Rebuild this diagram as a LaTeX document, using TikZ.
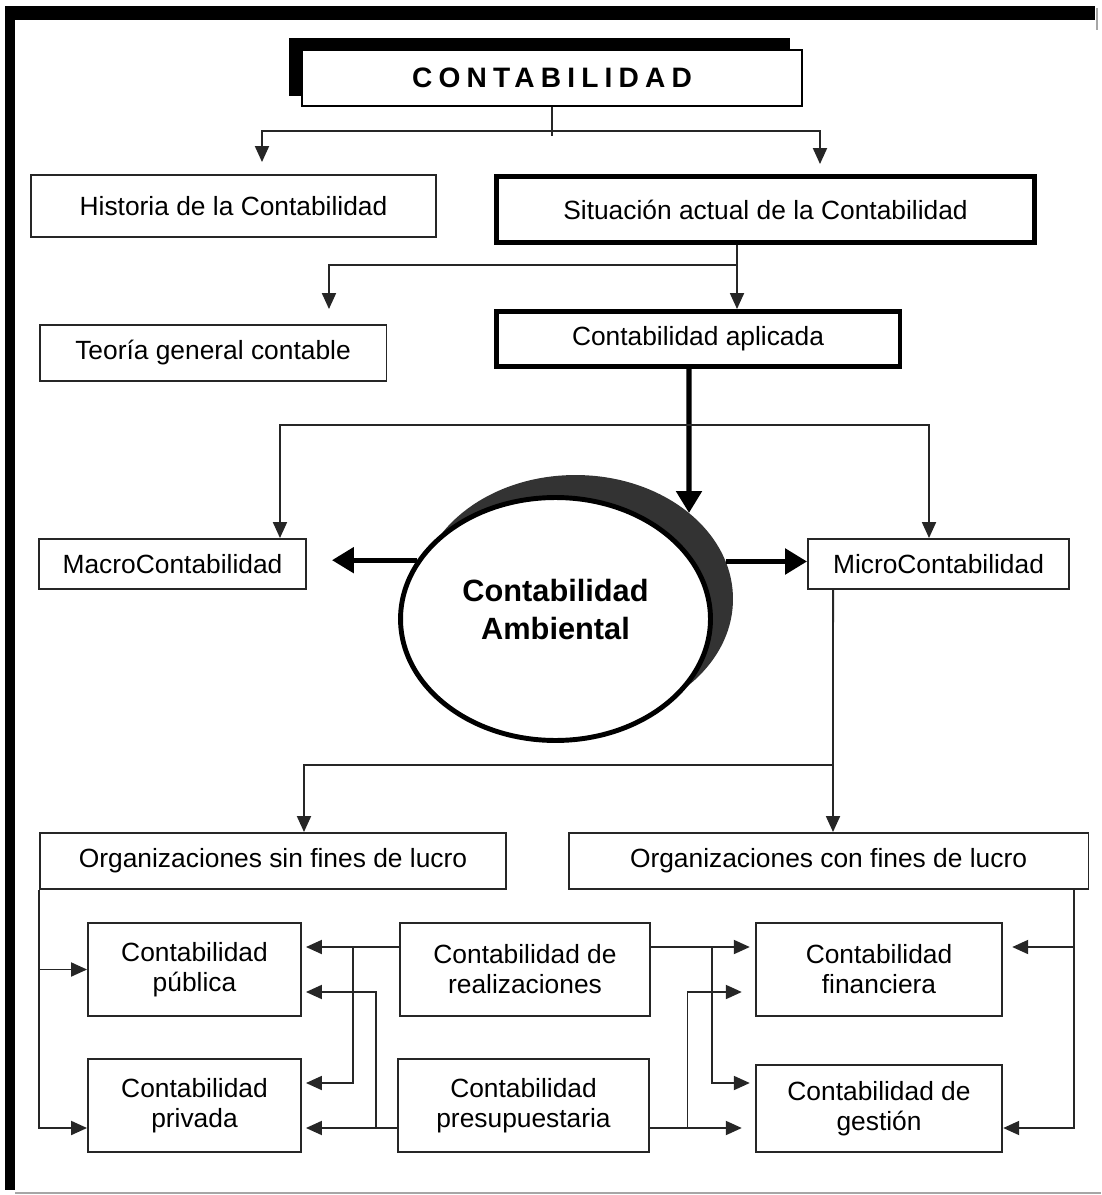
\documentclass[tikz,border=0pt]{standalone}
\usepackage{fontspec}
\setmainfont{Liberation Sans}
\usetikzlibrary{arrows.meta,shapes.geometric}

\tikzset{
  box/.style={draw=black!85, line width=1.1pt, fill=white, align=center, inner sep=0pt,
    font=\fontsize{15}{17}\selectfont},
  thickbox/.style={box, draw=black, line width=2.8pt},
  conn/.style={draw=black!85, line width=1.1pt},
  arr/.style={conn, -{Triangle[length=0.32cm,width=0.28cm]}},
  bigarr/.style={draw=black, line width=3pt, -{Triangle[length=0.44cm,width=0.5cm]}}
}

\begin{document}
\begin{tikzpicture}[x=0.02cm, y=-0.02cm]
    \useasboundingbox (0,0) rectangle (1101,1195);

    % Frame
    \fill (5,6) rectangle (1095,20);
    \fill (5,6) rectangle (15,1190);
    \draw[gray!70, line width=0.8pt] (15,1193) -- (1101,1193);
    \draw[gray!70, line width=0.8pt] (1097,8) -- (1097,30);

    % Title with its shadow
    \fill (289,38) rectangle (790,96);
    \node[box, draw=black, minimum width=10cm, minimum height=1.12cm,
          font=\bfseries\fontsize{16}{18}\selectfont\addfontfeature{LetterSpace=22}]
          (title) at (552,78) {CONTABILIDAD};

    % Second level
    \node[box, minimum width=8.1cm, minimum height=1.24cm] (historia) at (233.5,206)
        {Historia de la Contabilidad};
    \node[thickbox, minimum width=10.76cm, minimum height=1.32cm] (situacion) at (765.5,209.5)
        {Situación actual de la Contabilidad};
    \node[box, minimum width=6.94cm, minimum height=1.12cm] (teoria) at (213,353)
        {Teoría general contable};
    \node[thickbox, minimum width=8.08cm, minimum height=1.1cm] (aplicada) at (698,339)
        {Contabilidad aplicada};

    % Macro and micro
    \node[box, minimum width=5.34cm, minimum height=1cm] (macro) at (172.5,564) {MacroContabilidad};
    \node[box, minimum width=5.22cm, minimum height=1cm] (micro) at (938.5,564) {MicroContabilidad};

    % Environmental accounting
    \node[ellipse, fill=black!80, minimum width=6.3cm, minimum height=4.96cm] (ambsh) at (575.5,599) {};
    \node[ellipse, draw=black, line width=2.8pt, fill=white, inner sep=0pt,
          minimum width=6.2cm, minimum height=4.86cm,
          font=\bfseries\fontsize{17.5}{21.5}\selectfont] (amb) at (555.5,619)
        {\raisebox{0.12cm}[\height][\depth]{\begin{tabular}{@{}c@{}}Contabilidad\\Ambiental\end{tabular}}};

    % Organizations
    \node[box, minimum width=9.32cm, minimum height=1.12cm] (orgsin) at (273,861)
        {Organizaciones sin fines de lucro};
    \node[box, minimum width=10.4cm, minimum height=1.12cm] (orgcon) at (828.5,861)
        {Organizaciones con fines de lucro};

    % Branches of accounting
    \node[box, minimum width=4.26cm, minimum height=1.86cm] (publica) at (194.5,969.5)
        {Contabilidad\\pública};
    \node[box, minimum width=4.26cm, minimum height=1.86cm] (privada) at (194.5,1105.5)
        {Contabilidad\\privada};
    \node[box, minimum width=5cm, minimum height=1.86cm] (realiz) at (525,969.5)
        {Contabilidad de\\realizaciones};
    \node[box, minimum width=5.02cm, minimum height=1.86cm] (presup) at (523.5,1105.5)
        {Contabilidad\\presupuestaria};
    \node[box, minimum width=4.93cm, minimum height=1.86cm] (finan) at (879,969.5)
        {Contabilidad\\financiera};
    \node[box, minimum width=4.93cm, minimum height=1.74cm] (gestion) at (879,1108.5)
        {Contabilidad de\\gestión};

    % Bend points
    \coordinate (c1) at (552,131);
    \coordinate (c2) at (737,265);
    \coordinate (c3) at (689,513);
    \coordinate (c4) at (689,425);
    \coordinate (c5) at (833,765);
    \coordinate (rl) at (353,947);
    \coordinate (pl) at (376,1128);
    \coordinate (rr) at (712,947);
    \coordinate (pr) at (687.5,1128);
    \coordinate (rbus) at ([xshift=-0.31cm]orgcon.south east);
    \coordinate (fin1) at ([yshift=0.45cm]finan.east);

    % Top connectors
    \draw[conn] (title.south) -- ([yshift=-0.58cm]title.south);
    \draw[arr, shorten >=0.24cm] (c1) -| ([xshift=0.57cm]historia.north);
    \draw[arr, shorten >=0.2cm] (c1) -| ([xshift=1.09cm]situacion.north);
    \draw[arr] ([xshift=-0.57cm]situacion.south) -- (c2 |- aplicada.north);
    \draw[arr, shorten >=0.3cm] (c2) -| ([xshift=2.32cm]teoria.north);

    % Applied accounting to the centre
    \draw[bigarr] ([xshift=-0.18cm]aplicada.south) -- (c3);
    \draw[arr] (c4) -| ([xshift=2.15cm]macro.north);
    \draw[arr] (c4) -| ([xshift=-0.19cm]micro.north);
    \draw[bigarr, shorten >=0.5cm] (amb.157) -- (amb.157 -| macro.east);
    \draw[bigarr] (ambsh.14) -- (ambsh.14 -| micro.west);

    % Micro to organizations
    \draw[conn] ([xshift=-2.11cm]micro.south) -- (c5);
    \draw[arr] (c5) -| ([xshift=0.62cm]orgsin.north);
    \draw[arr] (c5) -- (c5 |- orgcon.north);

    % Left bus
    \draw[arr] (orgsin.south west) |- ([yshift=-0.45cm]privada.west);
    \draw[arr] (orgsin.south west |- publica.west) -- (publica.west);

    % Realizaciones and presupuestaria to the left
    \draw[arr, shorten >=0.08cm] ([yshift=0.45cm]realiz.west) -- ([yshift=0.45cm]publica.east);
    \draw[arr, shorten >=0.08cm] (rl) |- ([yshift=0.45cm]privada.east);
    \draw[arr, shorten >=0.08cm] ([yshift=-0.45cm]presup.west) -- ([yshift=-0.45cm]privada.east);
    \draw[arr, shorten >=0.08cm] (pl) |- ([yshift=-0.45cm]publica.east);

    % Realizaciones and presupuestaria to the right
    \draw[arr, shorten >=0.1cm] ([yshift=0.45cm]realiz.east) -- (fin1 -| finan.west);
    \draw[arr, shorten >=0.1cm] (rr) |- ([yshift=0.51cm]gestion.west);
    \draw[arr, shorten >=0.26cm] ([yshift=-0.45cm]presup.east) -- (pl -| gestion.west);
    \draw[arr, shorten >=0.26cm] (pr) |- ([yshift=-0.45cm]finan.west);

    % Right bus
    \draw[arr] (rbus) |- (pl -| gestion.east);
    \draw[arr, shorten >=0.18cm] (rbus |- fin1) -- (fin1);
\end{tikzpicture}
\end{document}
